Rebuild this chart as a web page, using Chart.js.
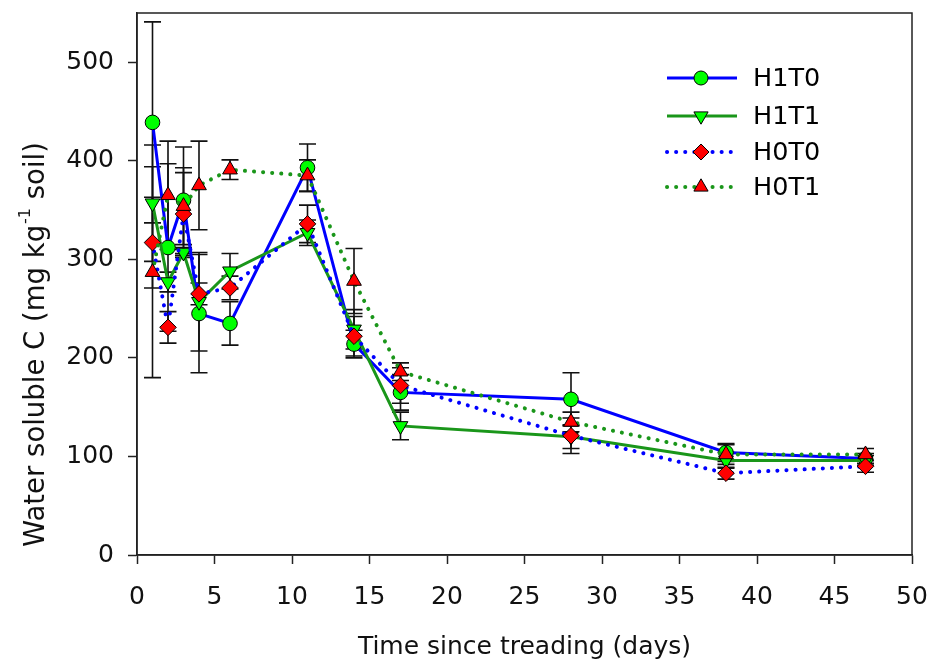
<!DOCTYPE html>
<html>
<head>
<meta charset="utf-8">
<script src="https://cdn.jsdelivr.net/npm/chart.js@4.4.1/dist/chart.umd.min.js"></script>
<style>
html,body{margin:0;padding:0;background:#fff;}
#wrap{width:931px;height:661px;}
</style>
</head>
<body>
<div id="wrap"><canvas id="c" width="931" height="661"></canvas></div>
<script>
// ---- data ----
const days = [1, 2, 3, 4, 6, 11, 14, 17, 28, 38, 47];

const seriesNames = ['H1T0', 'H1T1', 'H0T0', 'H0T1'];

const h1t0 = [439, 312, 360, 245, 235, 393, 214, 165, 158, 104, 98];
const h1t0Err = [102, 85, 54, 60, 22, 24, 14, 18, 27, 9, 5];

const h1t1 = [357, 277, 307, 257, 288, 327, 229, 131, 120, 96, 96];
const h1t1Err = [59, 10, 5, 50, 18, 13, 20, 14, 12, 8, 5];

const h0t0 = [317, 231, 346, 265, 271, 336, 222, 172, 121, 83, 90];
const h0t0Err = [46, 16, 42, 11, 12, 19, 20, 18, 18, 6, 6];

const h0t1 = [287, 365, 354, 375, 391, 385, 278, 186, 135, 102, 102];
const h0t1Err = [107, 55, 39, 45, 10, 16, 33, 9, 10, 10, 6];

const xTicksMax = 50, xStep = 5;
const yTicksMax = 550, yStep = 100, yLabelMax = 500;

const yTitleMain = 'Water soluble C (mg kg';
const yTitleSup = '-1';
const yTitleEnd = ' soil)';
const xTitle = 'Time since treading (days)';

// ---- styles ----
const BLUE = '#0000ff';
const GREEN = '#1a961a';
const LIME = '#00ff00';
const RED = '#ff0000';
const FONT = "'DejaVu Sans', sans-serif";

function pts(vals) { return days.map((d, i) => ({x: d, y: vals[i]})); }

const styles = [
  {vals: h1t0, err: h1t0Err, line: BLUE, dash: [], fill: LIME, point: 'circle', rot: 0, r: 7.3, order: 3},
  {vals: h1t1, err: h1t1Err, line: GREEN, dash: [], fill: LIME, point: 'triangle', rot: 180, r: 8.5, order: 2},
  {vals: h0t0, err: h0t0Err, line: BLUE, dash: [0.1, 9], fill: RED, point: 'rectRot', rot: 0, r: 8.3, order: 1},
  {vals: h0t1, err: h0t1Err, line: GREEN, dash: [0.1, 9], fill: RED, point: 'triangle', rot: 0, r: 8.5, order: 0}
];

const datasets = styles.map((s, i) => ({
  label: seriesNames[i],
  data: pts(s.vals),
  errors: s.err,
  borderColor: s.line,
  borderWidth: s.dash.length ? 4 : 3,
  borderDash: s.dash,
  borderCapStyle: s.dash.length ? 'round' : 'butt',
  pointStyle: s.point,
  rotation: s.rot,
  pointRadius: s.r,
  pointBackgroundColor: s.fill,
  pointBorderColor: '#000',
  pointBorderWidth: 1,
  tension: 0,
  fill: false,
  order: s.order
}));

const errorBars = {
  id: 'errorBars',
  beforeDatasetsDraw(chart) {
    const ctx = chart.ctx, xs = chart.scales.x, ys = chart.scales.y;
    ctx.save();
    ctx.strokeStyle = '#111';
    ctx.lineWidth = 1.6;
    chart.data.datasets.forEach(ds => {
      ds.data.forEach((p, i) => {
        const e = ds.errors[i];
        const px = xs.getPixelForValue(p.x);
        const top = ys.getPixelForValue(p.y + e);
        const bot = ys.getPixelForValue(p.y - e);
        const cw = 8.5;
        ctx.beginPath();
        ctx.moveTo(px, top); ctx.lineTo(px, bot);
        ctx.moveTo(px - cw, top); ctx.lineTo(px + cw, top);
        ctx.moveTo(px - cw, bot); ctx.lineTo(px + cw, bot);
        ctx.stroke();
      });
    });
    ctx.restore();
  }
};

const frame = {
  id: 'frame',
  afterDraw(chart) {
    const {ctx, chartArea: a} = chart;
    ctx.save();
    ctx.strokeStyle = '#222';
    ctx.lineWidth = 1.5;
    ctx.strokeRect(a.left, a.top, a.right - a.left, a.bottom - a.top);
    ctx.restore();
  }
};

const yTitlePlugin = {
  id: 'yTitle',
  afterDraw(chart) {
    const ctx = chart.ctx;
    ctx.save();
    ctx.translate(37, 345);
    ctx.rotate(-Math.PI / 2);
    ctx.fillStyle = '#111';
    ctx.textBaseline = 'middle';
    ctx.textAlign = 'left';
    const big = '27.5px ' + FONT, small = '16px ' + FONT;
    ctx.font = big;
    const w1 = ctx.measureText(yTitleMain).width;
    const w3 = ctx.measureText(yTitleEnd).width;
    ctx.font = small;
    const w2 = ctx.measureText(yTitleSup).width;
    const total = w1 + w2 + w3;
    let x = -total / 2;
    ctx.font = big;
    ctx.fillText(yTitleMain, x, 0);
    x += w1;
    ctx.font = small;
    ctx.fillText(yTitleSup, x + 1, -11);
    x += w2 + 1;
    ctx.font = big;
    ctx.fillText(yTitleEnd, x, 0);
    ctx.restore();
  }
};

const legendPlugin = {
  id: 'customLegend',
  afterDraw(chart) {
    const ctx = chart.ctx;
    const rows = [78, 116, 152, 187];
    const x0 = 667, x1 = 737, xm = 701, xt = 753;
    ctx.save();
    chart.data.datasets.forEach((ds, i) => {
      const y = rows[i];
      ctx.save();
      ctx.strokeStyle = ds.borderColor;
      ctx.lineWidth = ds.borderWidth;
      ctx.setLineDash(ds.borderDash);
      ctx.lineCap = ds.borderCapStyle;
      ctx.beginPath();
      ctx.moveTo(x0, y); ctx.lineTo(x1, y);
      ctx.stroke();
      ctx.restore();
      ctx.save();
      ctx.fillStyle = ds.pointBackgroundColor;
      ctx.strokeStyle = '#000';
      ctx.lineWidth = 1;
      Chart.helpers.drawPoint(ctx, {pointStyle: ds.pointStyle, rotation: ds.rotation, radius: ds.pointRadius - 0.3, borderWidth: 1}, xm, y);
      ctx.restore();
      ctx.fillStyle = '#000';
      ctx.font = '25.5px ' + FONT;
      ctx.textBaseline = 'middle';
      ctx.textAlign = 'left';
      ctx.fillText(ds.label, xt, y + 1);
    });
    ctx.restore();
  }
};

new Chart(document.getElementById('c'), {
  type: 'line',
  data: {datasets},
  plugins: [errorBars, frame, yTitlePlugin, legendPlugin],
  options: {
    responsive: false,
    animation: false,
    layout: {padding: {top: 13, right: 19, left: 0, bottom: 0}},
    plugins: {legend: {display: false}, tooltip: {enabled: false}},
    scales: {
      x: {
        type: 'linear',
        min: 0, max: xTicksMax,
        ticks: {stepSize: xStep, color: '#111', font: {family: FONT, size: 25}, padding: 18, maxRotation: 0},
        grid: {drawOnChartArea: false, drawTicks: true, tickLength: 9, color: '#222', tickWidth: 1.5},
        border: {display: true, color: '#222', width: 1.5},
        title: {display: true, text: xTitle, color: '#111', font: {family: FONT, size: 25}, padding: {top: 0, bottom: -1}},
        afterFit(s) { s.height = 106; s.paddingLeft = 0; s.paddingRight = 0; }
      },
      y: {
        type: 'linear',
        min: 0, max: yTicksMax,
        ticks: {stepSize: yStep, color: '#111', font: {family: FONT, size: 25}, padding: 14},
        afterBuildTicks(s) { s.ticks = s.ticks.filter(t => t.value <= yLabelMax); },
        grid: {drawOnChartArea: false, drawTicks: true, tickLength: 9, color: '#222', tickWidth: 1.5},
        border: {display: true, color: '#222', width: 1.5},
        title: {display: false},
        afterFit(s) { s.width = 137; s.paddingTop = 0; s.paddingBottom = 0; }
      }
    }
  }
});
</script>
</body>
</html>
